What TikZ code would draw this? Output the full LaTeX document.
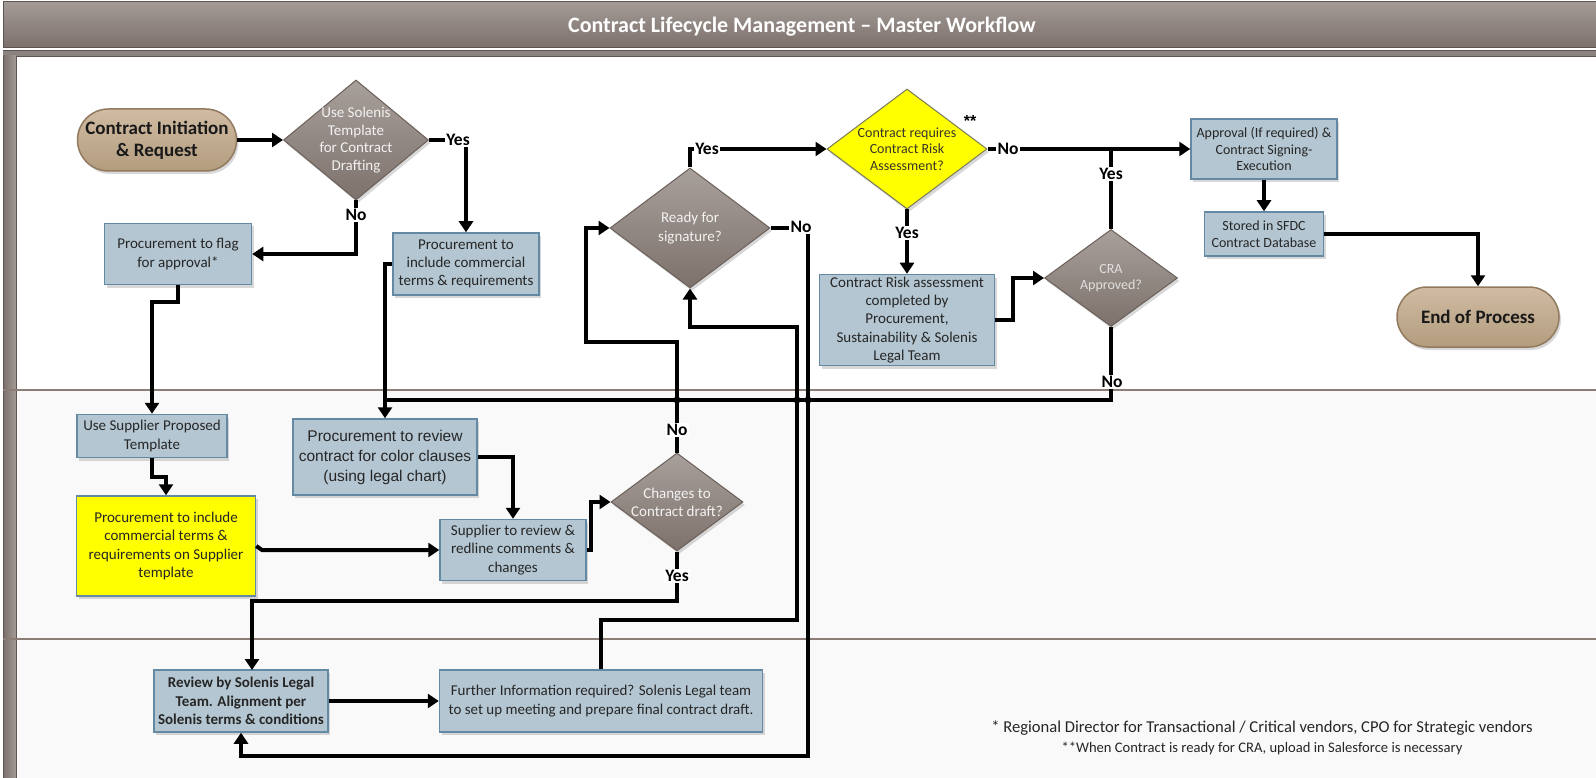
\documentclass[tikz,border=0pt]{standalone}
\usepackage{fontspec}
\setmainfont{Carlito}
\newfontfamily\arialf{Liberation Sans}
\usetikzlibrary{shapes.geometric,shapes.misc,arrows.meta,shadows}

\definecolor{boxfill}{HTML}{B4C6D1}
\definecolor{boxdraw}{HTML}{6489A3}
\definecolor{dtop}{HTML}{A8A09C}
\definecolor{dbot}{HTML}{7D716B}
\definecolor{ddraw}{HTML}{6B5F59}
\definecolor{ptop}{HTML}{D0BCA3}
\definecolor{pbot}{HTML}{B39C7E}
\definecolor{pdraw}{HTML}{927A5F}
\definecolor{lanel}{HTML}{8C7E77}
\definecolor{ttop}{HTML}{A39A96}
\definecolor{tbot}{HTML}{7C706B}
\definecolor{tdraw}{HTML}{5E5550}
\definecolor{lanebg}{HTML}{F9F9F9}
\definecolor{ylw}{HTML}{FFFF00}
\definecolor{ydraw}{HTML}{7A7A5A}

\newcommand{\myfs}[2]{\fontsize{#1}{#2}\selectfont}

\tikzset{
  shd/.style={drop shadow={shadow xshift=2pt,shadow yshift=-3pt,opacity=0.3}},
  procbox/.style={rectangle, draw=boxdraw, line width=1.5pt, fill=boxfill, align=center,
    inner sep=1pt, text=black!85, font=\myfs{15}{18.3}, shd},
  decis/.style={diamond, draw=ddraw, line width=1pt, top color=dtop, bottom color=dbot,
    inner sep=0pt, shd},
  dtxt/.style={align=center, text=white!95!black, inner sep=0pt, font=\myfs{15}{18.3}},
  pill/.style={rounded rectangle, draw=pdraw, line width=1.5pt, top color=ptop, bottom color=pbot,
    align=center, inner sep=0pt, font=\bfseries\myfs{19}{22}, text=black!90, shd},
  conn/.style={line width=4pt, -{Triangle[length=11pt,width=14pt]}},
  plain/.style={line width=4pt},
  yn/.style={fill=white, inner sep=1.5pt, font=\bfseries\myfs{17.5}{18}, text=black},
  jdot/.style={circle, fill=black, inner sep=0pt, minimum size=7pt}
}

\begin{document}
\begin{tikzpicture}[x=1pt,y=-1pt]
\useasboundingbox (0,0) rectangle (1596,778);
% backgrounds
\fill[white] (0,0) rectangle (1596,778);
\fill[white] (16,56) rectangle (1596,390);
\fill[lanebg] (16,390) rectangle (1596,639);
\fill[lanebg] (16,639) rectangle (1596,778);
% title bar
\shade[top color=ttop, bottom color=tbot] (3,2) rectangle (1600,48);
\draw[tdraw, line width=1pt] (1600,2) -- (3,2) -- (3,48) -- (1600,48);
\fill[ttop!85!black] (3,50) rectangle (1600,56);
\draw[tdraw, line width=0.8pt] (3,50) -- (1600,50) (3,56) -- (1600,56);
\node[anchor=base, inner sep=0pt, text=white, font=\bfseries\myfs{22}{24}] (title) at (802,33) {Contract Lifecycle Management – Master Workflow};
% left bar
\shade[left color=tbot, right color=ttop] (3,56) rectangle (16,778);
\draw[tdraw, line width=0.8pt] (3,56) -- (3,778) (16,56) -- (16,778);
% lane separators
\draw[lanel, line width=1.5pt] (3,390) -- (1596,390);
\draw[lanel, line width=1.5pt] (3,639) -- (1596,639);

% nodes
\node[pill, minimum width=159pt, minimum height=62pt] (start) at (157,140) {Contract Initiation\\\& Request};
\node[decis, minimum width=145pt, minimum height=120pt] (d1) at (356,140) {};
\node[dtxt, font=\myfs{15}{17.8}] (d1t) at (356,140) {Use Solenis\\Template\\for Contract\\Drafting};
\node[procbox, minimum width=147pt, minimum height=61pt] (p1) at (178,254) {Procurement to flag\\for approval*};
\node[procbox, minimum width=146pt, minimum height=62pt] (p2) at (466,264) {Procurement to\\include commercial\\terms \& requirements};
\node[procbox, minimum width=150pt, minimum height=43pt] (p3) at (152,436) {Use Supplier Proposed\\Template};
\node[procbox, fill=ylw, minimum width=179pt, minimum height=100pt] (p4) at (166,546) {Procurement to include\\commercial terms \&\\requirements on Supplier\\template};
\node[procbox, minimum width=184pt, minimum height=76pt, font=\arialf\myfs{15.5}{20}] (p5) at (385,457) {Procurement to review\\contract for color clauses\\(using legal chart)};
\node[procbox, minimum width=146pt, minimum height=61pt] (p6) at (513,550) {Supplier to review \&\\redline comments \&\\changes};
\node[decis, minimum width=132pt, minimum height=98pt] (d4) at (677,502) {};
\node[dtxt] (d4t) at (677,502) {Changes to\\Contract draft?};
\node[procbox, minimum width=174pt, minimum height=62pt, font=\bfseries\myfs{15}{18.3}] (p7) at (241,701) {Review by Solenis Legal\\Team. Alignment per\\Solenis terms \& conditions};
\node[procbox, minimum width=323pt, minimum height=62pt] (p8) at (601,701) {Further Information required? Solenis Legal team\\to set up meeting and prepare final contract draft.};
\node[decis, minimum width=160pt, minimum height=120pt] (d3) at (690,228) {};
\node[dtxt] (d3t) at (690,228) {Ready for\\signature?};
\node[decis, fill=ylw, top color=ylw, bottom color=ylw, draw=ydraw, minimum width=160pt, minimum height=120pt] (d2) at (907,149) {};
\node[dtxt, text=black!80!olive, font=\myfs{14}{16.6}] (d2t) at (907,149) {Contract requires\\Contract Risk\\Assessment?};
\node[font=\arialf\bfseries\myfs{16}{16}] (stars) at (970,121) {**};
\node[procbox, minimum width=175pt, minimum height=91pt] (p9) at (907,320) {Contract Risk assessment\\completed by\\Procurement,\\Sustainability \& Solenis\\Legal Team};
\node[decis, minimum width=133pt, minimum height=97pt] (d5) at (1111,278) {};
\node[dtxt, text=white!88!black, font=\myfs{14}{16.7}] (d5t) at (1111,278) {CRA\\Approved?};
\node[procbox, minimum width=146pt, minimum height=60pt, font=\myfs{14}{16.7}] (p10) at (1264,149) {Approval (If required) \&\\Contract Signing-\\Execution};
\node[procbox, minimum width=119pt, minimum height=44pt, font=\myfs{14}{16.7}] (p11) at (1264,234) {Stored in SFDC\\Contract Database};
\node[pill, minimum width=162pt, minimum height=60pt] (end) at (1478,317) {End of Process};

% connectors
\draw[conn] (start.east) -- (d1.west);
\draw[conn] (d1.east) -| (p2.north);
\draw[conn] (d1.south) |- (p1.east);
\draw[conn] (p1.south) -- (178,302) -- (152,302) -- (p3.north);
\draw[conn] (p2.west) -- (385,264) -- (p5.north);
\draw[plain] (d5.south) -- (1111,400) -- (385,400);
\draw[conn] (p3.south) -- (152,477) -- (166,477) -- (p4.north);
\draw[conn] (p4.east) -- (262,550) -- (p6.west);
\draw[conn] (p5.east) -| (p6.north);
\draw[conn] (p6.east) -- (591,550) -- (591,502) -- (d4.west);
\draw[conn] (d4.north) -- (677,342) -- (586,342) -- (586,228) -- (d3.west);
\draw[conn] (d4.south) -- (677,601) -- (252,601) -- (252,670);
\draw[conn] (p7.east) -- (p8.west);
\draw[conn] (p8.north) -- (601,620) -- (797,620) -- (797,327) -- (690,327) -- (d3.south);
\draw[conn] (d3.east) -- (808,228) -- (808,756) -- (241,756) -- (p7.south);
\draw[conn] (d3.north) -- (690,149) -- (d2.west);
\draw[conn] (d2.east) -- (p10.west);
\draw[conn] (d2.south) -- (p9.north);
\draw[conn] (p9.east) -- (1013,320) -- (1013,278) -- (d5.west);
\draw[plain] (d5.north) -- (1111,149);
\draw[conn] (p10.south) -- (p11.north);
\draw[conn] (p11.east) -| (end.north);

% junction marks
\node[jdot] (j1) at (677,400) {};
\node[jdot] (j2) at (797,400) {};
\node[jdot] (j3) at (808,400) {};

% yes / no labels
\node[yn] (y1) at (458,140) {Yes};
\node[yn] (n1) at (356,215) {No};
\node[yn] (n4) at (677,430) {No};
\node[yn] (y4) at (677,576) {Yes};
\node[yn] (n3) at (801,227) {No};
\node[yn] (y3) at (707,149) {Yes};
\node[yn] (n2) at (1008,149) {No};
\node[yn] (y2) at (907,233) {Yes};
\node[yn] (y5) at (1111,174) {Yes};
\node[yn] (n5) at (1112,382) {No};

% footnotes
\node[font=\myfs{16.6}{18}, text=black!85] (fn1) at (1262,728) {* Regional Director for Transactional / Critical vendors, CPO for Strategic vendors};
\node[font=\myfs{14.6}{16}, text=black!85] (fn2) at (1262,748) {**When Contract is ready for CRA, upload in Salesforce is necessary};
\end{tikzpicture}
\end{document}
